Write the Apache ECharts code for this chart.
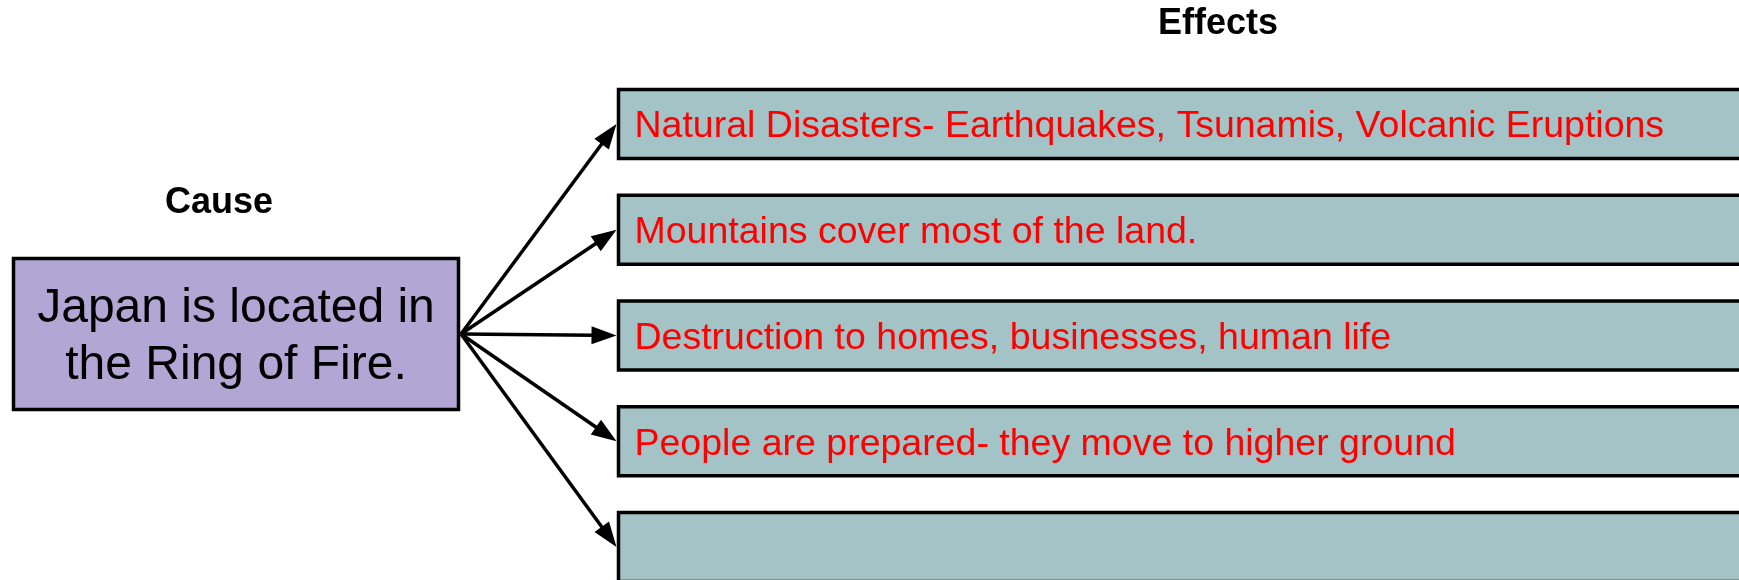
<!DOCTYPE html>
<html>
<head>
<meta charset="utf-8">
<script src="https://cdn.jsdelivr.net/npm/echarts@6/dist/echarts.min.js"></script>
<style>
  html, body { margin: 0; padding: 0; background: #fff; }
  #main { width: 1739px; height: 580px; }
</style>
</head>
<body>
<div id="main"></div>
<script>
// diagram content
const causeTitle = 'Cause';
const effectsTitle = 'Effects';
const causeLines = ['Japan is located in', 'the Ring of Fire.'];
const effects = [
  'Natural Disasters- Earthquakes, Tsunamis, Volcanic Eruptions',
  'Mountains cover most of the land.',
  'Destruction to homes, businesses, human life',
  'People are prepared- they move to higher ground',
  ''
];

// layout, in axis units (1 unit = 1 px)
const W = 1739, H = 580;
const FONT = '"Liberation Sans", Arial, sans-serif';
const CAUSE_BOX = { x0: 13.5, x1: 458.5, y0: 258.5, y1: 409.5 };
const ORIGIN = [461, 334];
const EFFECT_X = 618.5;
const ROW_TOP = 89.5, ROW_STEP = 105.75, ROW_H = 69;
const HEAD_LEN = 25, HEAD_W = 18;

const rowCenter = i => ROW_TOP + i * ROW_STEP + ROW_H / 2;

const chart = echarts.init(document.getElementById('main'), null, { renderer: 'canvas' });

function causeItem(params, api) {
  const p0 = api.coord([CAUSE_BOX.x0, CAUSE_BOX.y0]);
  const p1 = api.coord([CAUSE_BOX.x1, CAUSE_BOX.y1]);
  const cx = (p0[0] + p1[0]) / 2;
  const cy = (p0[1] + p1[1]) / 2 + 3;
  const children = [{
    type: 'rect',
    shape: { x: p0[0], y: p0[1], width: p1[0] - p0[0], height: p1[1] - p0[1] },
    style: { fill: '#b2a6d4', stroke: '#000', lineWidth: 3.5 }
  }];
  causeLines.forEach((t, k) => {
    children.push({
      type: 'text',
      style: {
        text: t, x: cx, y: cy + (k - (causeLines.length - 1) / 2) * 57,
        fill: '#000', fontSize: 48, fontFamily: FONT,
        align: 'center', verticalAlign: 'middle'
      }
    });
  });
  const tp = api.coord([219, 203]);
  children.push({
    type: 'text',
    style: {
      text: causeTitle, x: tp[0], y: tp[1], fill: '#000',
      fontSize: 36, fontWeight: 'bold', fontFamily: FONT,
      align: 'center', verticalAlign: 'middle'
    }
  });
  const ep = api.coord([1218, 24]);
  children.push({
    type: 'text',
    style: {
      text: effectsTitle, x: ep[0], y: ep[1], fill: '#000',
      fontSize: 36, fontWeight: 'bold', fontFamily: FONT,
      align: 'center', verticalAlign: 'middle'
    }
  });
  return { type: 'group', children };
}

function effectItem(params, api) {
  const i = api.value(0);
  const top = ROW_TOP + i * ROW_STEP;
  const p0 = api.coord([EFFECT_X, top]);
  const p1 = api.coord([W + 20, top + ROW_H]);
  const cy = (p0[1] + p1[1]) / 2;
  return {
    type: 'group',
    children: [{
      type: 'rect',
      shape: { x: p0[0], y: p0[1], width: p1[0] - p0[0], height: p1[1] - p0[1] },
      style: { fill: '#a3c3c7', stroke: '#000', lineWidth: 3.5 }
    }, {
      type: 'text',
      style: {
        text: effects[i], x: p0[0] + 16, y: cy + 3, fill: '#ff0000',
        fontSize: 37.5, fontFamily: FONT, align: 'left', verticalAlign: 'middle'
      }
    }]
  };
}

function arrowItem(params, api) {
  const i = api.value(0);
  const a = api.coord(ORIGIN);
  const b = api.coord([EFFECT_X - 2, rowCenter(i)]);
  const dx = b[0] - a[0], dy = b[1] - a[1];
  const len = Math.sqrt(dx * dx + dy * dy);
  const ux = dx / len, uy = dy / len;
  const bx = b[0] - ux * HEAD_LEN, by = b[1] - uy * HEAD_LEN;
  const nx = -uy * HEAD_W / 2, ny = ux * HEAD_W / 2;
  return {
    type: 'group',
    children: [{
      type: 'line',
      shape: { x1: a[0], y1: a[1], x2: bx + ux * 2, y2: by + uy * 2 },
      style: { stroke: '#000', lineWidth: 3.5 }
    }, {
      type: 'polygon',
      shape: { points: [[b[0], b[1]], [bx + nx, by + ny], [bx - nx, by - ny]] },
      style: { fill: '#000' }
    }]
  };
}

chart.setOption({
  animation: false,
  backgroundColor: '#fff',
  grid: { left: 0, right: 0, top: 0, bottom: 0 },
  xAxis: { type: 'value', min: 0, max: W, show: false },
  yAxis: { type: 'value', min: 0, max: H, inverse: true, show: false },
  series: [
    {
      type: 'custom',
      renderItem: arrowItem,
      data: effects.map((t, i) => [i]),
      z: 1
    },
    {
      type: 'custom',
      renderItem: effectItem,
      data: effects.map((t, i) => [i]),
      z: 2
    },
    {
      type: 'custom',
      renderItem: causeItem,
      data: [[0]],
      z: 3
    }
  ]
});

window.addEventListener('resize', () => chart.resize());
</script>
</body>
</html>
